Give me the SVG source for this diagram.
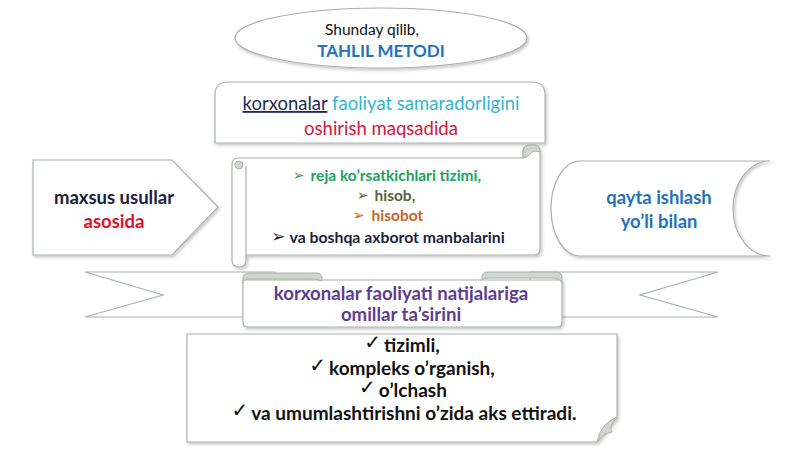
<svg xmlns="http://www.w3.org/2000/svg" width="800" height="449" viewBox="0 0 800 449">
<style>
  .shape { fill: #ffffff; stroke: #aab2aa; stroke-width: 1.2; }
  .fold { fill: #cfd5cf; stroke: #aab2aa; stroke-width: 1; }
  .t { font-family: Lato, "Open Sans", sans-serif; text-anchor: middle; }
  .b { font-weight: bold; }
  .sym { font-family: "DejaVu Sans", sans-serif; }
  .chk { font-family: "DejaVu Sans", sans-serif; font-size: 20px; font-weight: normal; }
</style>
<defs>
  <filter id="sh" x="-10%" y="-10%" width="130%" height="140%">
    <feDropShadow dx="1.5" dy="2" stdDeviation="1.8" flood-color="#000" flood-opacity="0.22"/>
  </filter>
</defs>
<rect width="800" height="449" fill="#ffffff"/>

<g id="connectors"></g>

<g id="title">
  <ellipse class="shape" cx="381" cy="38" rx="146" ry="30" filter="url(#sh)"/>
  <text class="t" x="372" y="35" font-size="15.5" fill="#111">Shunday qilib,</text>
  <text class="t b" x="381" y="57" font-size="17" fill="#2472b8">TAHLIL METODI</text>
</g>

<g id="purpose">
  <path class="shape" filter="url(#sh)" d="M215,143 V95 Q215,82 228,82 H532 Q545,82 545,95 V143 Z"/>
  <text class="t" x="381" y="110" font-size="18.5"><tspan fill="#1f2a5e" text-decoration="underline">korxonalar</tspan><tspan fill="#33b5cc"> faoliyat samaradorligini</tspan></text>
  <text class="t" x="381" y="135" font-size="18.5" fill="#d0183c">oshirish maqsadida</text>
</g>

<g id="methods">
  <path class="shape" filter="url(#sh)" d="M168,160 H33 V255 H172 L218,207 L172,160 Z"/>
  <text class="t b" x="114" y="204" font-size="18.5" fill="#1a2140">maxsus usullar</text>
  <text class="t b" x="114" y="228" font-size="18.5" fill="#e0102c">asosida</text>
</g>

<g id="sources">
  <path class="shape" filter="url(#sh)" d="M238,158 H523 V152 Q523,145 530,145 H534 Q540,145 540,152 V249 Q540,255 534,255 H246 V260 Q246,267 239,267 Q232,267 232,260 V165 Q232,158 238,158 Z"/>
  <path class="fold" d="M523,158 V152 Q523,145 530,145 H534 Q540,145 540,152 Q534,150 531,153 Q528,158 523,158 Z"/>
  <circle class="fold" cx="239" cy="165" r="4"/>
  <line x1="246" y1="166" x2="246" y2="255" stroke="#aab2aa" stroke-width="1.2"/>
  <text class="t b" x="387" y="181" font-size="15.5" fill="#1ea060"><tspan class="sym" font-size="14" dy="-1">➢</tspan><tspan dx="6" dy="1">reja ko’rsatkichlari tizimi,</tspan></text>
  <text class="t b" x="386" y="201" font-size="15.5" fill="#55653a"><tspan class="sym" font-size="14" dy="-1">➢</tspan><tspan dx="6" dy="1">hisob,</tspan></text>
  <text class="t b" x="388" y="221" font-size="15.5" fill="#c8652a"><tspan class="sym" font-size="14" dy="-1">➢</tspan><tspan dx="7" dy="1">hisobot</tspan></text>
  <text class="t b" x="388" y="243" font-size="15.8" fill="#1a1f3a"><tspan class="sym" font-size="17" dy="-1">➢</tspan><tspan dx="4" dy="1">va boshqa axborot manbalarini</tspan></text>
</g>

<g id="processing">
  <path class="shape" filter="url(#sh)" d="M580,161 H770 A37,47.5 0 0 0 770,256 H580 A29,47.5 0 0 1 580,161 Z"/>
  <text class="t b" x="659" y="204" font-size="18.4" fill="#2472b8">qayta ishlash</text>
  <text class="t b" x="659" y="228" font-size="18.4" fill="#2472b8">yo’li bilan</text>
</g>

<g id="impact">
  <path class="shape" d="M85,272 H275 V317 H85 L163,295 Z"/>
  <path class="shape" d="M718,272 H530 V317 H718 L640,295 Z"/>
  <path class="shape" filter="url(#sh)" d="M243,280 H562 V322 Q562,327 557,327 H248 Q243,327 243,322 Z"/>
  <path class="fold" d="M243,283 V278 Q243,273 250,273 H316 Q322,273 322,278 V281 Q318,279 310,279 H250 Q243,279 243,283 Z"/>
  <path class="fold" d="M482,280 V277 Q482,272 488,272 H556 Q562,272 562,277 V283 Q560,278 552,278 H490 Q483,278 482,280 Z"/>
  <text class="t b" x="401" y="300" font-size="18.6" fill="#5e3c8f">korxonalar faoliyati natijalariga</text>
  <text class="t b" x="401" y="321" font-size="18.6" fill="#5e3c8f">omillar ta’sirini</text>
</g>

<g id="summary">
  <path class="shape" filter="url(#sh)" d="M187,334 H617 V417 L597,442 H187 Z"/>
  <path class="fold" d="M597,442 Q600,424 617,417 Q608,428 612,432 Q602,434 597,442 Z"/>
  <text class="t b" x="402" y="352" font-size="19" fill="#111"><tspan class="chk" dy="-3">✓</tspan><tspan dx="3" dy="3">tizimli,</tspan></text>
  <text class="t b" x="402" y="375" font-size="19" fill="#111"><tspan class="chk" dy="-3">✓</tspan><tspan dx="3" dy="3">kompleks o’rganish,</tspan></text>
  <text class="t b" x="403" y="397" font-size="19" fill="#111"><tspan class="chk" dy="-3">✓</tspan><tspan dx="3" dy="3">o’lchash</tspan></text>
  <text class="t b" x="404" y="420" font-size="19" fill="#111"><tspan class="chk" dy="-3">✓</tspan><tspan dx="3" dy="3">va umumlashtirishni o’zida aks ettiradi.</tspan></text>
</g>
</svg>
